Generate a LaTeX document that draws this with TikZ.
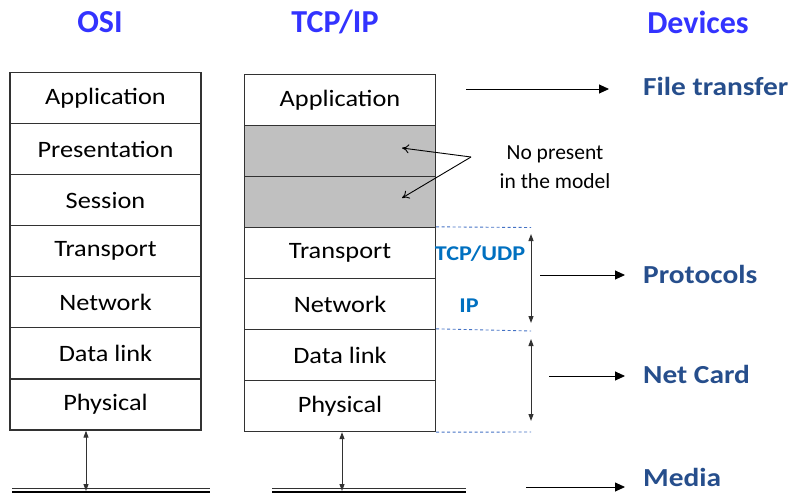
\documentclass[tikz,border=0pt]{standalone}
\usepackage{fontspec}
\setmainfont{Carlito}
\usetikzlibrary{arrows.meta}
\definecolor{titleblue}{RGB}{51,51,255}
\definecolor{devblue}{RGB}{38,78,140}
\definecolor{protblue}{RGB}{0,112,192}
\definecolor{dashblue}{RGB}{68,114,196}
\definecolor{boxgrey}{RGB}{192,192,192}
\definecolor{edge}{RGB}{50,50,50}
\begin{document}
\begin{tikzpicture}[x=1pt,y=-1pt,
  layer/.style={draw=edge,line width=1.3pt,minimum width=191pt,minimum height=51pt,inner sep=0pt,
    font=\fontsize{23.5}{26}\selectfont\addfontfeature{FakeStretch=1.12}},
  greylayer/.style={layer,fill=boxgrey},
  title/.style={font=\fontsize{32}{34}\selectfont\bfseries,text=titleblue,inner sep=0pt},
  devtext/.style={font=\fontsize{26}{28}\selectfont\bfseries\addfontfeature{FakeStretch=1.13},text=devblue,anchor=west,inner sep=0pt},
  prottext/.style={font=\fontsize{21}{22}\selectfont\bfseries\addfontfeature{FakeStretch=1.15},text=protblue,inner sep=0pt},
  devarrow/.style={-{Triangle[length=10pt,width=9pt]},line width=0.9pt},
  updown/.style={{Triangle[length=7pt,width=5pt]}-{Triangle[length=7pt,width=5pt]},line width=1pt,draw=edge},
  dashln/.style={dashed,dash pattern=on 3pt off 2.5pt,draw=dashblue,line width=0.9pt},
]
\useasboundingbox (0,0) rectangle (791,493);

% titles
\node[title] (tosi) at (100,22) {OSI};
\node[title] (ttcp) at (335,22) {TCP/IP};
\node[title] (tdev) at (698,22) {Devices};

% OSI column
\node[layer] (o1) at (105.5,98) {Application};
\node[layer] (o2) at (105.5,149) {Presentation};
\node[layer] (o3) at (105.5,200) {Session};
\node[layer] (o4) at (105.5,251) {Transport};
\node[layer] (o5) at (105.5,302) {Network};
\node[layer] (o6) at (105.5,353) {Data link};
\node[layer] (o7) at (105.5,404.5) {Physical};

% TCP/IP column
\node[layer] (t1) at (340,100) {Application};
\node[greylayer] (t2) at (340,151) {};
\node[greylayer] (t3) at (340,202) {};
\node[layer] (t4) at (340,253) {Transport};
\node[layer] (t5) at (340,304) {Network};
\node[layer] (t6) at (340,355) {Data link};
\node[layer] (t7) at (340,406) {Physical};

% not present
\node[font=\fontsize{21.5}{29}\selectfont,align=center,inner sep=0pt] (np) at (555,167) {No present\\in the model};
\coordinate (npv) at (471,157);
\coordinate (g1) at (402,148);
\coordinate (g2) at (402,198);
\draw[-{To[length=7pt,width=9pt]},line width=0.9pt] (npv) -- (g1);
\draw[-{To[length=7pt,width=9pt]},line width=0.9pt] (npv) -- (g2);

% dashed lines
\coordinate (d1) at (531,227.5);
\coordinate (d2) at (531,331);
\coordinate (d3) at (531,432);
\draw[dashln] (t4.north east) -- (d1);
\draw[dashln] (t6.north east) -- (d2);
\draw[dashln] (t7.south east) -- (d3);

% vertical double arrows
\coordinate (v1a) at (531,234);
\coordinate (v1b) at (531,323);
\coordinate (v2a) at (531,339);
\coordinate (v2b) at (531,421);
\draw[updown] (v1a) -- (v1b);
\draw[updown] (v2a) -- (v2b);

\node[prottext] (tcpudp) at (480,254) {TCP/UDP};
\node[prottext] (ip) at (469,306) {IP};

% devices
\node[devtext] (ft) at (643,86) {File transfer};
\node[devtext] (pr) at (643,274) {Protocols};
\node[devtext] (nc) at (643,374) {Net Card};
\node[devtext] (me) at (643,477) {Media};
\coordinate (a1) at (466,89);
\coordinate (a2) at (540,275);
\coordinate (a3) at (549,376);
\coordinate (a4) at (526,487);
\draw[devarrow] (a1) -- (609,89);
\draw[devarrow] (a2) -- (625,275);
\draw[devarrow] (a3) -- (625,376);
\draw[devarrow] (a4) -- (625,487);

% media lines
\coordinate (m1l) at (12,488.5);
\coordinate (m1r) at (210,488.5);
\coordinate (m2l) at (272,488.5);
\coordinate (m2r) at (466,488.5);
\draw[line width=0.8pt,draw=edge] (m1l) -- (m1r);
\draw[line width=2pt] ([yshift=-3.2pt]m1l) -- ([yshift=-3.2pt]m1r);
\draw[line width=0.8pt,draw=edge] (m2l) -- (m2r);
\draw[line width=2pt] ([yshift=-3.2pt]m2l) -- ([yshift=-3.2pt]m2r);

\coordinate (b1) at (86,491);
\coordinate (b2) at (342,491);
\draw[updown] (o7.south -| b1) -- (b1);
\draw[updown] (t7.south -| b2) -- (b2);
\end{tikzpicture}
\end{document}
